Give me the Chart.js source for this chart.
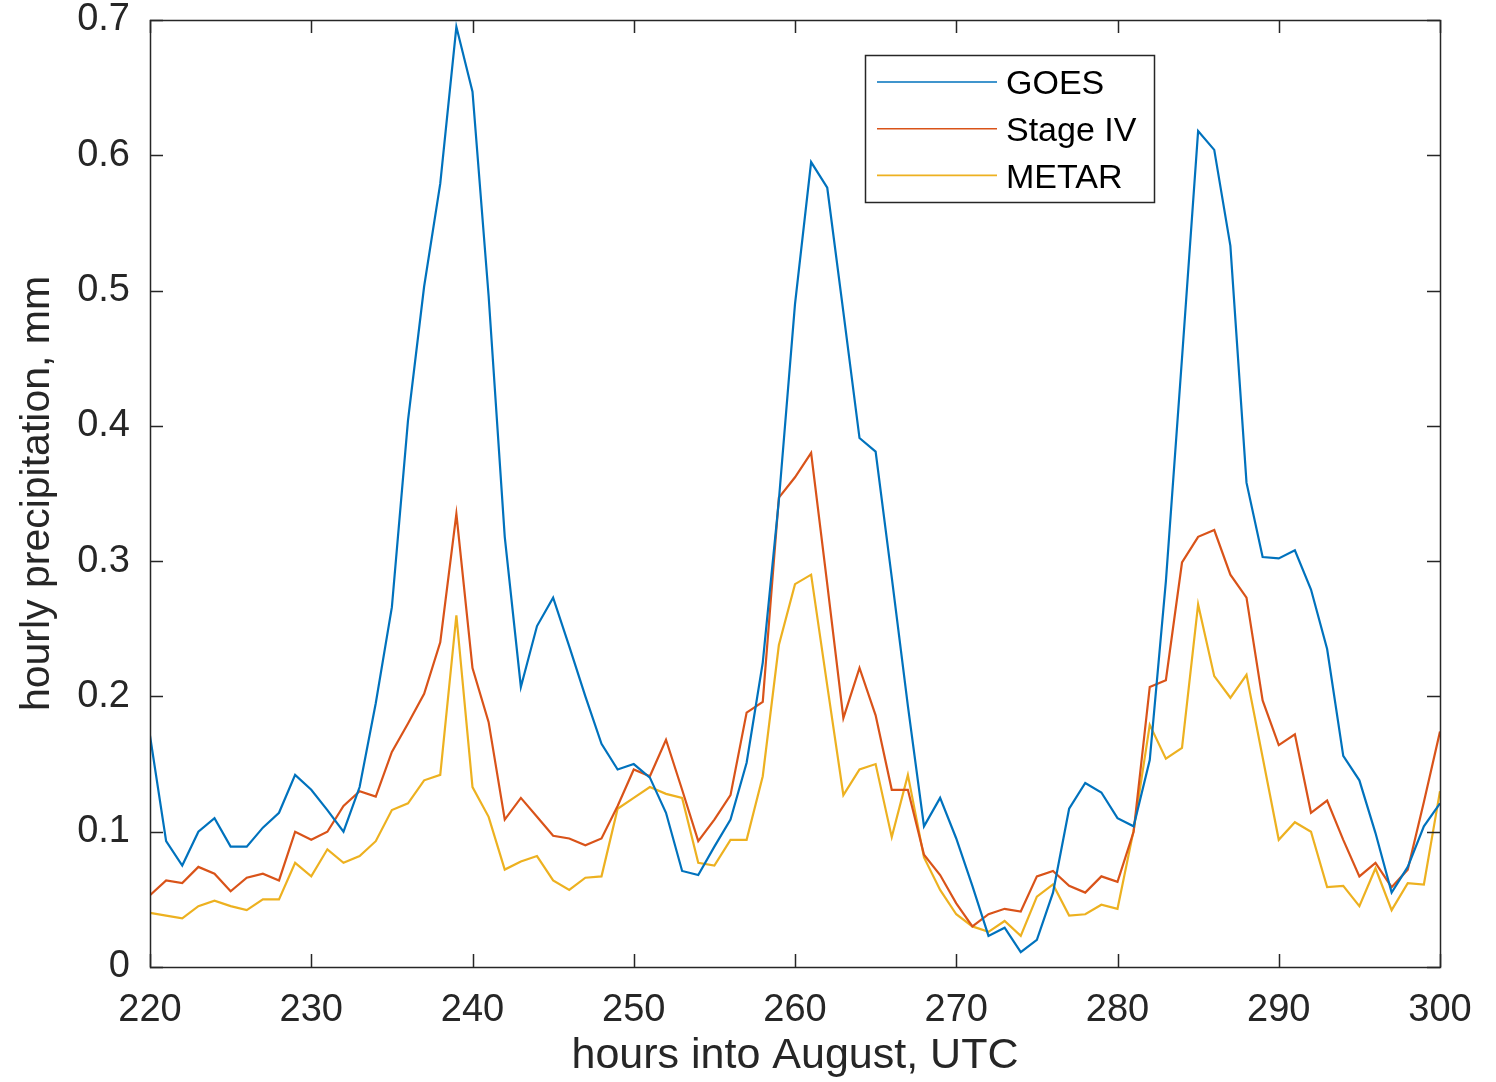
<!DOCTYPE html>
<html>
<head>
<meta charset="utf-8">
<script src="https://cdn.jsdelivr.net/npm/chart.js@4"></script>
<style>
  html, body { margin: 0; padding: 0; background: #fff; }
  #wrap { width: 1496px; height: 1082px; }
</style>
</head>
<body>
<div id="wrap"><canvas id="myChart" width="1496" height="1082"></canvas></div>
<script>
// hours 220..300, one value per hour
var startHour = 220
var endHour = 300

var goes = [
	0.171, 0.093, 0.075, 0.100, 0.110, 0.089, 0.089, 0.103, 0.114, 0.142,
	0.131, 0.116, 0.100, 0.133, 0.195, 0.266, 0.404, 0.503, 0.579, 0.695,
	0.647, 0.496, 0.318, 0.207, 0.252, 0.273, 0.237, 0.200, 0.165, 0.146,
	0.150, 0.140, 0.114, 0.071, 0.068, 0.089, 0.109, 0.151, 0.225, 0.345,
	0.490, 0.595, 0.576, 0.484, 0.391, 0.381, 0.288, 0.193, 0.104, 0.125,
	0.095, 0.060, 0.023, 0.029, 0.011, 0.020, 0.055, 0.117, 0.136, 0.129,
	0.110, 0.104, 0.153, 0.285, 0.450, 0.618, 0.604, 0.533, 0.358, 0.303,
	0.302, 0.308, 0.279, 0.235, 0.156, 0.138, 0.099, 0.055, 0.074, 0.104,
	0.121
]
var stageIV = [
	0.053, 0.064, 0.062, 0.074, 0.069, 0.056, 0.066, 0.069, 0.064, 0.100,
	0.094, 0.100, 0.119, 0.130, 0.126, 0.159, 0.180, 0.202, 0.240, 0.335,
	0.221, 0.181, 0.109, 0.125, 0.111, 0.097, 0.095, 0.090, 0.095, 0.119,
	0.146, 0.141, 0.168, 0.131, 0.093, 0.109, 0.127, 0.188, 0.196, 0.347,
	0.362, 0.380, 0.283, 0.184, 0.221, 0.186, 0.131, 0.131, 0.083, 0.068,
	0.047, 0.030, 0.039, 0.043, 0.041, 0.067, 0.071, 0.060, 0.055, 0.067,
	0.063, 0.100, 0.207, 0.212, 0.299, 0.318, 0.323, 0.290, 0.273, 0.197,
	0.164, 0.172, 0.114, 0.123, 0.094, 0.067, 0.077, 0.059, 0.072, 0.122,
	0.174
]
var metar = [
	0.040, 0.038, 0.036, 0.045, 0.049, 0.045, 0.042, 0.050, 0.050, 0.077,
	0.067, 0.087, 0.077, 0.082, 0.093, 0.116, 0.121, 0.138, 0.142, 0.260,
	0.133, 0.111, 0.072, 0.078, 0.082, 0.064, 0.057, 0.066, 0.067, 0.117,
	0.125, 0.133, 0.128, 0.125, 0.077, 0.075, 0.094, 0.094, 0.141, 0.238,
	0.283, 0.290, 0.208, 0.127, 0.146, 0.150, 0.096, 0.142, 0.081, 0.057,
	0.039, 0.030, 0.026, 0.034, 0.023, 0.052, 0.061, 0.038, 0.039, 0.046,
	0.043, 0.101, 0.179, 0.154, 0.162, 0.268, 0.215, 0.199, 0.216, 0.155,
	0.094, 0.107, 0.100, 0.059, 0.060, 0.045, 0.073, 0.042, 0.062, 0.061,
	0.130
]
var seriesNames = ['GOES', 'Stage IV', 'METAR']
var seriesColors = ['#0072BD', '#D95319', '#EDB120']

var hours = []
for (var h = startHour; h <= endHour; h++) hours.push(h)

function toPoints(vals) {
	var pts = []
	for (var i = 0; i < vals.length; i++) {
		pts.push({ x: hours[i], y: vals[i] })
	}
	return pts
}

var axisColor = '#262626'
var fontFamily = '"Liberation Sans", Arial, Helvetica, sans-serif'

// MATLAB-like box with ticks pointing inward on all four sides
var boxPlugin = {
	id: 'boxAxes',
	afterDraw: function(chart) {
		var c = chart.ctx
		var a = chart.chartArea
		var xs = chart.scales.x
		var ys = chart.scales.y
		var len = 13
		c.save()
		c.strokeStyle = axisColor
		c.lineWidth = 1.5
		c.beginPath()
		xs.ticks.forEach(function(t) {
			var px = Math.round(xs.getPixelForValue(t.value)) + 0.5
			c.moveTo(px, a.bottom); c.lineTo(px, a.bottom - len)
			c.moveTo(px, a.top); c.lineTo(px, a.top + len)
		})
		ys.ticks.forEach(function(t) {
			var py = Math.round(ys.getPixelForValue(t.value)) + 0.5
			c.moveTo(a.left, py); c.lineTo(a.left + len, py)
			c.moveTo(a.right, py); c.lineTo(a.right - len, py)
		})
		c.stroke()
		c.strokeRect(Math.round(a.left) + 0.5, Math.round(a.top) + 0.5,
			Math.round(a.right - a.left), Math.round(a.bottom - a.top))
		c.restore()
	}
}

// legend box in the upper right of the plot area
var legendPlugin = {
	id: 'boxLegend',
	afterDraw: function(chart) {
		var c = chart.ctx
		var a = chart.chartArea
		var bx = a.right - 575
		var by = a.top + 35
		var bw = 289
		var bh = 147
		c.save()
		c.fillStyle = '#fff'
		c.fillRect(bx, by, bw, bh)
		c.strokeStyle = axisColor
		c.lineWidth = 1.5
		c.strokeRect(bx + 0.5, by + 0.5, bw, bh)
		c.font = '34px ' + fontFamily
		c.textBaseline = 'middle'
		chart.data.datasets.forEach(function(ds, i) {
			var yy = by + 27 + i * 46.7
			c.strokeStyle = ds.borderColor
			c.lineWidth = 1.6
			c.beginPath()
			c.moveTo(bx + 12, yy)
			c.lineTo(bx + 132, yy)
			c.stroke()
			c.fillStyle = '#000'
			c.fillText(ds.label, bx + 141, yy + 3)
		})
		c.restore()
	}
}

// hidden tick marks only used to push the labels away from the axes
var hiddenGrid = function(len) {
	return {
		display: true,
		drawOnChartArea: false,
		drawTicks: true,
		tickLength: len,
		color: 'rgba(0,0,0,0)'
	}
}

var ctx = document.getElementById('myChart')

window.myChart = new Chart(ctx, {
	type: 'line',
	data: {
		datasets: [
			{ label: seriesNames[0], data: toPoints(goes), borderColor: seriesColors[0] },
			{ label: seriesNames[1], data: toPoints(stageIV), borderColor: seriesColors[1] },
			{ label: seriesNames[2], data: toPoints(metar), borderColor: seriesColors[2] }
		]
	},
	options: {
		responsive: false,
		animation: false,
		devicePixelRatio: 1,
		layout: { padding: { top: 20, right: 56, left: 0, bottom: 0 } },
		elements: {
			line: { borderWidth: 2.2, tension: 0, fill: false },
			point: { radius: 0, hoverRadius: 0 }
		},
		plugins: {
			legend: { display: false },
			tooltip: { enabled: false }
		},
		scales: {
			x: {
				type: 'linear',
				min: startHour,
				max: endHour,
				grid: hiddenGrid(25),
				border: { display: false },
				ticks: {
					stepSize: 10,
					padding: 0,
					color: axisColor,
					maxRotation: 0,
					font: { family: fontFamily, size: 38, lineHeight: 1 }
				},
				title: {
					display: true,
					text: 'hours into August, UTC',
					color: axisColor,
					padding: { top: 0, bottom: 0 },
					font: { family: fontFamily, size: 43, lineHeight: 1.2 }
				},
				afterFit: function(scale) { scale.height = 115 }
			},
			y: {
				min: 0,
				max: 0.7,
				grid: hiddenGrid(20),
				border: { display: false },
				ticks: {
					stepSize: 0.1,
					padding: 0,
					color: axisColor,
					font: { family: fontFamily, size: 38, lineHeight: 1 },
					callback: function(v) { return String(Number(v.toFixed(1))) }
				},
				title: {
					display: true,
					text: 'hourly precipitation, mm',
					color: axisColor,
					padding: { top: 13, bottom: 0 },
					font: { family: fontFamily, size: 41, lineHeight: 1.2 }
				},
				afterFit: function(scale) { scale.width = 150 }
			}
		}
	},
	plugins: [boxPlugin, legendPlugin]
})
</script>
</body>
</html>
